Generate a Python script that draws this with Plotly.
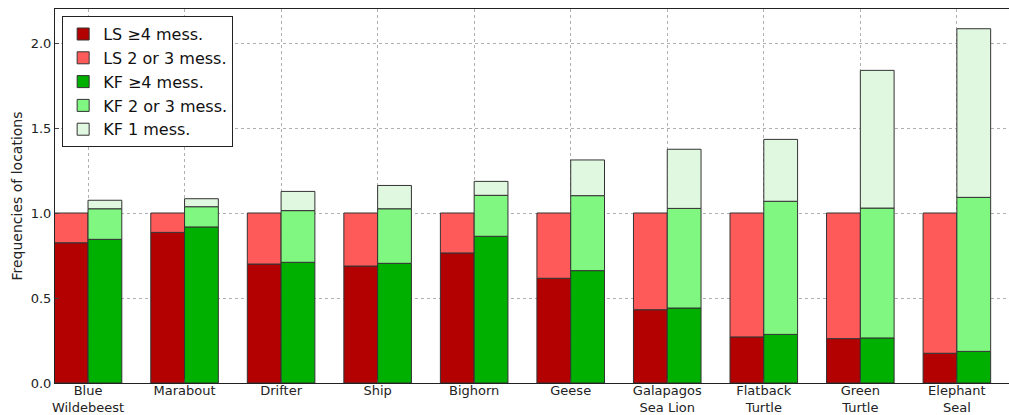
import plotly.graph_objects as go

categories = ["Blue<br>Wildebeest", "Marabout", "Drifter", "Ship", "Bighorn", "Geese",
              "Galapagos<br>Sea Lion", "Flatback<br>Turtle", "Green<br>Turtle", "Elephant<br>Seal"]

# cumulative tops
ls_ge4 = [0.825, 0.886, 0.700, 0.688, 0.765, 0.616, 0.431, 0.271, 0.261, 0.175]
ls_total = [1.0] * 10
kf_ge4 = [0.845, 0.918, 0.710, 0.704, 0.863, 0.661, 0.441, 0.286, 0.265, 0.186]
kf_ge2 = [1.025, 1.037, 1.014, 1.025, 1.104, 1.102, 1.027, 1.069, 1.029, 1.092]
kf_total = [1.075, 1.084, 1.127, 1.162, 1.186, 1.312, 1.375, 1.433, 1.839, 2.084]

pos = list(range(len(categories)))
w = 0.35
ls_x = [p - w / 2 for p in pos]
kf_x = [p + w / 2 for p in pos]

line = dict(color="#333333", width=1)
fig = go.Figure()

def add(name, x, base, top, color):
    fig.add_trace(go.Bar(
        name=name, x=x, base=base, y=[t - b for t, b in zip(top, base)],
        width=w, marker=dict(color=color, line=line)))

add("LS ≥4 mess.", ls_x, [0] * 10, ls_ge4, "#b30000")
add("LS 2 or 3 mess.", ls_x, ls_ge4, ls_total, "#ff5a5a")
add("KF ≥4 mess.", kf_x, [0] * 10, kf_ge4, "#00b000")
add("KF 2 or 3 mess.", kf_x, kf_ge4, kf_ge2, "#80f780")
add("KF 1 mess.", kf_x, kf_ge2, kf_total, "#e0f7e0")

fig.update_layout(
    width=1009, height=415,
    margin=dict(l=55, r=0, t=9, b=32),
    barmode="overlay",
    plot_bgcolor="white", paper_bgcolor="white",
    font=dict(family="DejaVu Sans", size=13, color="#222222"),
    showlegend=True,
    legend=dict(x=0.0075, y=0.981, xanchor="left", yanchor="top",
                bordercolor="#222222", borderwidth=1, bgcolor="white",
                font=dict(size=16, color="#111111"), traceorder="normal"),
    xaxis=dict(range=[-0.342, 9.54], tickvals=pos, ticktext=categories,
               showgrid=True, gridcolor="#b0b0b0", griddash="dot", gridwidth=1,
               showline=True, linecolor="#222222", mirror=True,
               ticks="inside", ticklen=4, zeroline=False, automargin=False,
               ticklabelstandoff=-5),
    yaxis=dict(range=[0, 2.2], tickvals=[0, 0.5, 1.0, 1.5, 2.0],
               ticktext=["0.0", "0.5", "1.0", "1.5", "2.0"],
               showgrid=True, gridcolor="#b0b0b0", griddash="dot", gridwidth=1,
               showline=True, linecolor="#222222", mirror=False,
               ticks="inside", ticklen=4, zeroline=False, automargin=False,
               title=dict(text="Frequencies of locations", font=dict(size=14), standoff=4)),
)

fig.write_html("out.html", config={"displayModeBar": False},
               post_script="document.body.style.margin='0';document.body.style.overflow='hidden';")
